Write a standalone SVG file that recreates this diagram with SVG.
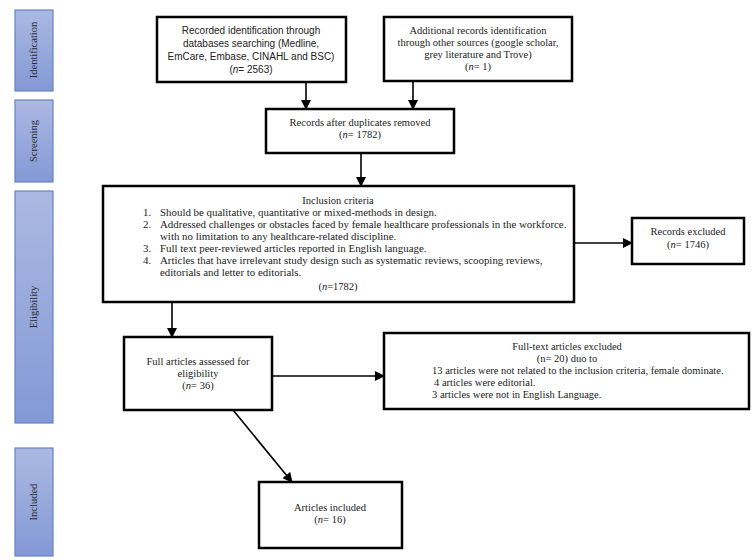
<svg xmlns="http://www.w3.org/2000/svg" width="753" height="560" viewBox="0 0 753 560">
<defs>
<linearGradient id="bar" x1="0" y1="0" x2="0" y2="1">
<stop offset="0" stop-color="#abb9e2"/>
<stop offset="1" stop-color="#8399d6"/>
</linearGradient>
<marker id="ah" viewBox="0 0 10 10" refX="9" refY="5" markerWidth="10" markerHeight="10" markerUnits="userSpaceOnUse" orient="auto">
<path d="M0,0 L10,5 L0,10 z" fill="#000"/>
</marker>
</defs>
<style>
.bar{fill:url(#bar);stroke:#6683c4;stroke-width:1.2}
.bt{font-family:"Liberation Serif",serif;font-size:10.5px;fill:#2a2a2a;text-anchor:middle}
.box{fill:#fff;stroke:#000;stroke-width:2.5}
.t{font-family:"Liberation Serif",serif;font-size:10.5px;fill:#222;text-anchor:middle}
.tl{font-family:"Liberation Serif",serif;font-size:10.5px;fill:#222}
.ti{font-family:"Liberation Serif",serif;font-size:10.9px;fill:#222}
.s{font-family:"Liberation Sans",sans-serif;font-size:10px;fill:#222;text-anchor:middle}
.c{stroke:#000;stroke-width:1.6;fill:none;marker-end:url(#ah)}
</style>
<rect width="753" height="560" fill="#fff"/>
<g id="phase-identification"><rect class="bar" x="15" y="10" width="38" height="81"/><text class="bt" transform="translate(37,50) rotate(-90)">Identification</text></g>
<g id="phase-screening"><rect class="bar" x="15" y="100" width="38" height="82"/><text class="bt" transform="translate(37,141) rotate(-90)">Screening</text></g>
<g id="phase-eligibility"><rect class="bar" x="15" y="191" width="38" height="232"/><text class="bt" transform="translate(37,307) rotate(-90)">Eligibility</text></g>
<g id="phase-included"><rect class="bar" x="15" y="448" width="38" height="108"/><text class="bt" transform="translate(37,502) rotate(-90)">Included</text></g>

<g id="connectors">
<line class="c" x1="306" y1="82" x2="306" y2="109"/>
<line class="c" x1="413" y1="81" x2="413" y2="109"/>
<line class="c" x1="361" y1="153" x2="361" y2="186"/>
<line class="c" x1="574" y1="243" x2="632" y2="243"/>
<line class="c" x1="172" y1="302" x2="172" y2="337"/>
<line class="c" x1="272" y1="376" x2="384" y2="376"/>
<line class="c" x1="233" y1="410" x2="292" y2="482"/>
</g>

<g id="db-search"><rect class="box" x="157" y="17" width="189" height="65"/>
<text class="s" x="251" y="34">Recorded identification through</text>
<text class="s" x="251" y="47">databases searching (Medline,</text>
<text class="s" x="251" y="60">EmCare, Embase, CINAHL and BSC)</text>
<text class="s" x="251" y="73">(<tspan font-style="italic">n</tspan>= 2563)</text></g>

<g id="other-sources"><rect class="box" x="384" y="17" width="188" height="64"/>
<text class="t" x="478" y="34">Additional records identification</text>
<text class="t" x="478" y="46">through other sources (google scholar,</text>
<text class="t" x="478" y="58">grey literature and Trove)</text>
<text class="t" x="478" y="70">(<tspan font-style="italic">n</tspan>= 1)</text></g>

<g id="after-duplicates"><rect class="box" x="266" y="109" width="188" height="44"/>
<text class="t" x="360" y="126">Records after duplicates removed</text>
<text class="t" x="360" y="138">(<tspan font-style="italic">n</tspan>= 1782)</text></g>

<g id="inclusion"><rect class="box" x="103" y="186" width="471" height="116"/>
<text class="t" x="338" y="204" font-size="10.9">Inclusion criteria</text>
<text class="ti" x="143" y="216">1.</text><text class="ti" x="160" y="216">Should be qualitative, quantitative or mixed-methods in design.</text>
<text class="ti" x="143" y="228">2.</text><text class="ti" x="160" y="228">Addressed challenges or obstacles faced by female healthcare professionals in the workforce.</text>
<text class="ti" x="160" y="240">with no limitation to any healthcare-related discipline.</text>
<text class="ti" x="143" y="252">3.</text><text class="ti" x="160" y="252">Full text peer-reviewed articles reported in English language.</text>
<text class="ti" x="143" y="264">4.</text><text class="ti" x="160" y="264">Articles that have irrelevant study design such as systematic reviews, scooping reviews,</text>
<text class="ti" x="160" y="276">editorials and letter to editorials.</text>
<text class="t" x="338" y="290" font-size="10.9">(<tspan font-style="italic">n</tspan>=1782)</text></g>

<g id="records-excluded"><rect class="box" x="632" y="218" width="112" height="46"/>
<text class="t" x="688" y="235">Records excluded</text>
<text class="t" x="688" y="248">(<tspan font-style="italic">n</tspan>= 1746)</text></g>

<g id="full-assessed"><rect class="box" x="124" y="337" width="148" height="73"/>
<text class="t" x="198" y="365">Full articles assessed for</text>
<text class="t" x="198" y="377">eligibility</text>
<text class="t" x="198" y="389">(<tspan font-style="italic">n</tspan>= 36)</text></g>

<g id="full-excluded"><rect class="box" x="384" y="333" width="365" height="76"/>
<text class="t" x="567" y="350">Full-text articles excluded</text>
<text class="t" x="567" y="362">(n= 20) duo to</text>
<text class="tl" x="432" y="374">13 articles were not related to the inclusion criteria, female dominate.</text>
<text class="tl" x="434" y="386">4 articles were editorial.</text>
<text class="tl" x="432" y="398">3 articles were not in English Language.</text></g>

<g id="included"><rect class="box" x="259" y="482" width="143" height="66"/>
<text class="t" x="330" y="511">Articles included</text>
<text class="t" x="330" y="523">(<tspan font-style="italic">n</tspan>= 16)</text></g>
</svg>
